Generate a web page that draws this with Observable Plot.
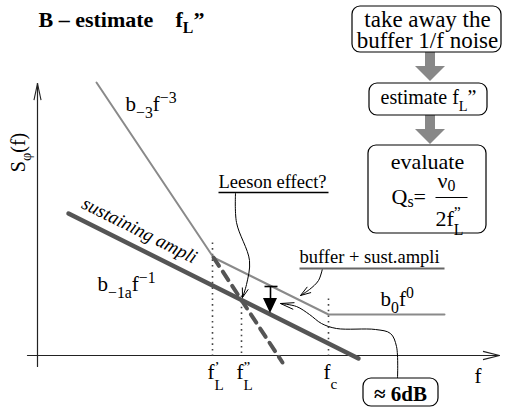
<!DOCTYPE html>
<html><head><meta charset="utf-8">
<script src="https://cdn.jsdelivr.net/npm/d3@7"></script>
<script src="https://cdn.jsdelivr.net/npm/@observablehq/plot@0.6"></script>
<style>
html,body{margin:0;padding:0;background:#fff}
#chart svg text, #chart svg tspan{font-family:"Liberation Serif","DejaVu Serif","Noto Serif",Tinos,"Times New Roman",Times,serif !important}
</style>
</head><body><div id="chart"></div>
<script>
// ---------- diagram data (schematic coordinates, x: log f, y: log S) ----------
const axisX = [[27, 355], [499, 355]];
const axisY = [[37, 366], [37, 83]];
const totalNoise = [[96, 82], [213, 257], [328, 314], [444, 314]];   // b-3 f^-3 -> buffer+sust -> b0 f^0
const sustAmpli = [[68, 213], [358, 358]];                             // b-1a f^-1
const leesonDash = [[213, 257], [282, 362]];                           // Leeson f^-3 continuation
const cornerX = [212, 241, 328];
const cornerTop = [242, 295, 298];
const cornerNames = ["f_{L}^{’}", "f_{L}^{”}", "f_{c}"];
const leesonCurve = [[235, 193], [236, 222], [249, 260], [246, 284], [242, 297]];
const bufferCurve = [[322, 268], [318, 280], [309, 289], [300, 295]];
const dbCurve = [[397, 378], [396, 346], [390, 333], [375, 329], [336, 328], [321, 323], [309, 314], [296, 306], [280, 303]];
const flowSteps = ["take away the", "buffer 1/f noise", "estimate f_{L}”", "evaluate"];
const slopeLabels = ["b_{−3}f^{−3}", "b_{−1a}f^{−1}", "b_{0}f^{0}"];
const notes = ["Leeson effect?", "buffer + sust.ampli", "sustaining ampli", "≈ 6dB"];
const title = ["B – estimate", "f_{L}”"];
const yLabel = "S_{φ}(f)";
const formula = ["Q_{s}=", "ν_{0}", "2f_{L}^{”}"];

// ---------- layout ----------
const pts = a => a.map(([x, y]) => ({x, y}));
function barbs(p, len, deg) {
  const [tx, ty] = p[p.length - 1], [px, py] = p[p.length - 2];
  const a = Math.atan2(ty - py, tx - px), h = deg * Math.PI / 180;
  return [1, -1].map(s => ({x1: tx, y1: ty, x2: tx - len * Math.cos(a + s * h), y2: ty - len * Math.sin(a + s * h)}));
}
const dotted = cornerX.map((x, i) => ({x1: x, y1: cornerTop[i], x2: x, y2: 355}));
const boxes = [
  {x1: 352, y1: 6, x2: 501, y2: 52},
  {x1: 369, y1: 83, x2: 487, y2: 115},
  {x1: 368, y1: 145, x2: 486, y2: 233},
  {x1: 363, y1: 378, x2: 438, y2: 406}
];
const shafts = [{x1: 425, x2: 435, y1: 52, y2: 67}, {x1: 425, x2: 435, y1: 115, y2: 129}];
const heads = [[66, 81], [129, 144]].flatMap(([a, b], k) =>
  [[415, a], [430, b], [445, a]].map(([x, y]) => ({k, x, y1: a, y2: y})));
const bigHead = [[263, 298], [270, 313], [277, 298]].map(([x, y]) => ({x, y1: 298, y2: y}));
const L = {x1: "x1", y1: "y1", x2: "x2", y2: "y2"};

const T = (data, o) => Plot.text(data, {x: "x", y: "y", text: "t", lineAnchor: "bottom", textAnchor: "start", fill: "#000", fontFamily: "Liberation Serif", ...o});

// sub/superscript settings per label (em shifts, script scale, stacked sub+sup)
const richOpts = new Map([
  [title[1], {sub: 0.3, sup: 0.4, scale: 0.72}],
  [slopeLabels[0], {sub: 0.38, sup: 0.38, scale: 0.75}],
  [slopeLabels[1], {sub: 0.38, sup: 0.38, scale: 0.75}],
  [slopeLabels[2], {sub: 0.38, sup: 0.38, scale: 0.75}],
  [cornerNames[0], {sub: 0.55, sup: 0.3, scale: 0.72, stack: true}],
  [cornerNames[1], {sub: 0.55, sup: 0.3, scale: 0.72, stack: true}],
  [cornerNames[2], {sub: 0.5, sup: 0.3, scale: 0.72}],
  [yLabel, {sub: 0.3, sup: 0.4, scale: 0.72}],
  [flowSteps[2], {sub: 0.35, sup: 0.4, scale: 0.72}],
  [formula[0], {sub: 0.18, sup: 0.4, scale: 0.72}],
  [formula[1], {sub: 0.15, sup: 0.4, scale: 0.72}],
  [formula[2], {sub: 0.45, sup: 0.32, scale: 0.72, stack: true}]
]);

const chart = Plot.plot({
  width: 507, height: 407, margin: 0,
  x: {domain: [0, 507], range: [0, 507], axis: null},
  y: {domain: [0, 407], range: [0, 407], axis: null},
  style: {background: "#fff", overflow: "visible"},
  marks: [
    // axes
    Plot.line(pts(axisX), {x: "x", y: "y", stroke: "#222", strokeWidth: 1.2}),
    Plot.line(pts(axisY), {x: "x", y: "y", stroke: "#222", strokeWidth: 1.2}),
    Plot.link([...barbs(axisX, 17, 14), ...barbs(axisY, 17, 12)], {...L, stroke: "#222", strokeWidth: 1.1}),
    // dotted corner frequencies
    Plot.link(dotted, {...L, stroke: "#444", strokeWidth: 1.6, strokeDasharray: "1.6,4"}),
    // spectra
    Plot.line(pts(totalNoise), {x: "x", y: "y", stroke: "#8a8a8a", strokeWidth: 2}),
    Plot.line(pts(sustAmpli), {x: "x", y: "y", stroke: "#555", strokeWidth: 4.5}),
    Plot.line(pts(leesonDash), {x: "x", y: "y", stroke: "#555", strokeWidth: 4, strokeDasharray: "10,7"}),
    // 6 dB arrow
    Plot.link([{x1: 264, y1: 286, x2: 277, y2: 286}, {x1: 270, y1: 286, x2: 270, y2: 299}], {...L, stroke: "#000", strokeWidth: 1.6}),
    Plot.areaY(bigHead, {x: "x", y1: "y1", y2: "y2", fill: "#000"}),
    // pointer curves
    Plot.line(pts(leesonCurve), {x: "x", y: "y", stroke: "#000", strokeWidth: 1, curve: "catmull-rom"}),
    Plot.line(pts(bufferCurve), {x: "x", y: "y", stroke: "#000", strokeWidth: 1, curve: "catmull-rom"}),
    Plot.line(pts(dbCurve), {x: "x", y: "y", stroke: "#000", strokeWidth: 1, curve: "catmull-rom"}),
    Plot.link([...barbs(leesonCurve, 10, 18), ...barbs(bufferCurve, 11, 18), ...barbs(dbCurve, 14, 14)], {...L, stroke: "#000", strokeWidth: 1}),
    // underlines
    Plot.link([{x1: 218, y1: 192, x2: 328, y2: 192}], {...L, stroke: "#000", strokeWidth: 1.5}),
    Plot.link([{x1: 299, y1: 268, x2: 444, y2: 268}], {...L, stroke: "#666", strokeWidth: 2}),
    // flow chart
    Plot.rect(shafts, {x1: "x1", x2: "x2", y1: "y1", y2: "y2", fill: "#888"}),
    Plot.areaY(heads, {x: "x", y1: "y1", y2: "y2", z: "k", fill: "#888"}),
    Plot.rect(boxes, {x1: "x1", x2: "x2", y1: "y1", y2: "y2", rx: 8, fill: "#fff", stroke: "#000", strokeWidth: 1.2}),
    Plot.link([{x1: 435, y1: 197, x2: 467, y2: 197}], {...L, stroke: "#000", strokeWidth: 1.2}),
    // texts
    T([{t: title[0], x: 38, y: 26}, {t: title[1], x: 175, y: 26}], {fontSize: 22, fontWeight: "bold"}),
    T([{t: slopeLabels[0], x: 125, y: 110}, {t: slopeLabels[1], x: 97, y: 290}, {t: slopeLabels[2], x: 380, y: 305}], {fontSize: 21}),
    T(cornerNames.map((t, i) => ({t, x: cornerX[i] - 5, y: 378})).concat([{t: "f", x: 474, y: 382}]), {fontSize: 21}),
    T([{t: yLabel, x: 24, y: 152}], {fontSize: 20, rotate: -90, textAnchor: "middle"}),
    T([{t: notes[0], x: 218, y: 187}, {t: notes[1], x: 299, y: 262}], {fontSize: 18.5}),
    T([{t: notes[2], x: 80, y: 207}], {fontSize: 19, fontStyle: "italic", rotate: 26.6}),
    T([{t: notes[3], x: 400, y: 400}], {fontSize: 21, fontWeight: "bold", textAnchor: "middle"}),
    T([{t: flowSteps[0], x: 427, y: 26}, {t: flowSteps[1], x: 427, y: 47}], {fontSize: 23, textAnchor: "middle"}),
    T([{t: flowSteps[2], x: 428, y: 103}], {fontSize: 20, textAnchor: "middle"}),
    T([{t: flowSteps[3], x: 427, y: 168}], {fontSize: 22, textAnchor: "middle"}),
    T([{t: formula[0], x: 391, y: 203}, {t: formula[1], x: 437, y: 187}, {t: formula[2], x: 435, y: 225}], {fontSize: 22})
  ]
});
document.getElementById("chart").appendChild(chart);

// ---------- sub/superscript rendering ----------
const NS = "http://www.w3.org/2000/svg";
chart.querySelectorAll("text").forEach(el => {
  const s = el.textContent;
  const o = richOpts.get(s);
  if (!o) return;
  const fs = parseFloat(getComputedStyle(el).fontSize);
  const parts = []; const re = /([_^])\{([^}]*)\}|([^_^]+)/g; let m;
  while ((m = re.exec(s))) parts.push(m[3] != null ? {t: m[3], k: 0} : {t: m[2], k: m[1] === "_" ? 1 : 2});
  el.textContent = "";
  let shift = 0, prev = null;
  for (const p of parts) {
    const ts = document.createElementNS(NS, "tspan");
    ts.textContent = p.t;
    const target = p.k === 1 ? o.sub * fs : p.k === 2 ? -o.sup * fs : 0;
    ts.setAttribute("dy", (target - shift).toFixed(2));
    shift = target;
    if (p.k) ts.setAttribute("font-size", (o.scale * fs).toFixed(2));
    el.appendChild(ts);
    if (p.k === 2 && prev && prev.k === 1 && o.stack) ts.setAttribute("dx", (-prev.el.getComputedTextLength()).toFixed(2));
    prev = {k: p.k, el: ts};
  }
});
</script>
</body></html>
